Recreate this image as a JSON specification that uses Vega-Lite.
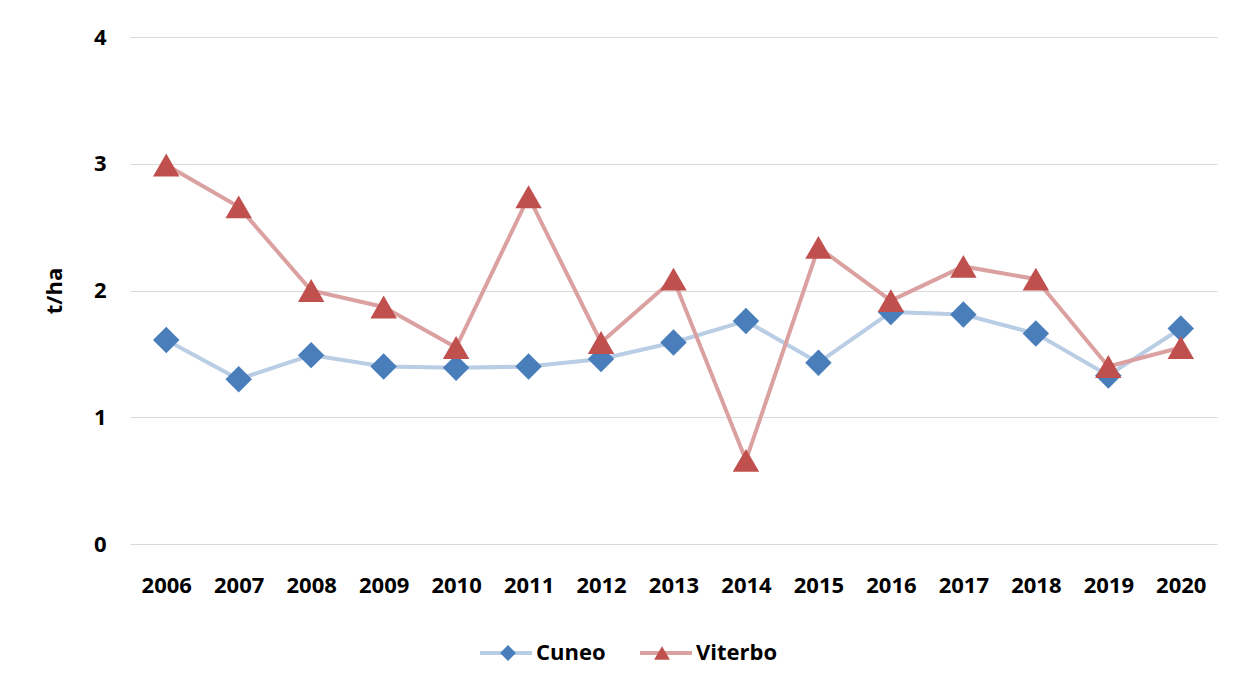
{
  "$schema": "https://vega.github.io/schema/vega-lite/v6.json",
  "width": 1087,
  "height": 507,
  "autosize": {"type": "none"},
  "padding": {"left": 130, "top": 37, "right": 26, "bottom": 145},
  "background": "#ffffff",
  "config": {
    "font": "Open Sans",
    "view": {"stroke": null}
  },
  "data": {
    "values": [
      {"year": "2006", "series": "Cuneo", "value": 1.61},
      {"year": "2007", "series": "Cuneo", "value": 1.30},
      {"year": "2008", "series": "Cuneo", "value": 1.49},
      {"year": "2009", "series": "Cuneo", "value": 1.40},
      {"year": "2010", "series": "Cuneo", "value": 1.39},
      {"year": "2011", "series": "Cuneo", "value": 1.40},
      {"year": "2012", "series": "Cuneo", "value": 1.46},
      {"year": "2013", "series": "Cuneo", "value": 1.59},
      {"year": "2014", "series": "Cuneo", "value": 1.76},
      {"year": "2015", "series": "Cuneo", "value": 1.43},
      {"year": "2016", "series": "Cuneo", "value": 1.83},
      {"year": "2017", "series": "Cuneo", "value": 1.81},
      {"year": "2018", "series": "Cuneo", "value": 1.66},
      {"year": "2019", "series": "Cuneo", "value": 1.33},
      {"year": "2020", "series": "Cuneo", "value": 1.70},
      {"year": "2006", "series": "Viterbo", "value": 2.99},
      {"year": "2007", "series": "Viterbo", "value": 2.66},
      {"year": "2008", "series": "Viterbo", "value": 2.00},
      {"year": "2009", "series": "Viterbo", "value": 1.87},
      {"year": "2010", "series": "Viterbo", "value": 1.55},
      {"year": "2011", "series": "Viterbo", "value": 2.74},
      {"year": "2012", "series": "Viterbo", "value": 1.59},
      {"year": "2013", "series": "Viterbo", "value": 2.09},
      {"year": "2014", "series": "Viterbo", "value": 0.66},
      {"year": "2015", "series": "Viterbo", "value": 2.34},
      {"year": "2016", "series": "Viterbo", "value": 1.92},
      {"year": "2017", "series": "Viterbo", "value": 2.19},
      {"year": "2018", "series": "Viterbo", "value": 2.09},
      {"year": "2019", "series": "Viterbo", "value": 1.40},
      {"year": "2020", "series": "Viterbo", "value": 1.55}
    ]
  },
  "encoding": {
    "x": {
      "field": "year",
      "type": "ordinal",
      "scale": {"type": "point", "padding": 0.5},
      "axis": {
        "title": null,
        "labelAngle": 0,
        "domain": false,
        "ticks": false,
        "labelFont": "Open Sans",
        "labelFontWeight": "bold",
        "labelFontSize": 22,
        "labelColor": "#000000",
        "labelPadding": 31
      }
    },
    "y": {
      "field": "value",
      "type": "quantitative",
      "scale": {"domain": [0, 4], "nice": false},
      "axis": {
        "title": "t/ha",
        "values": [0, 1, 2, 3, 4],
        "domain": false,
        "ticks": false,
        "grid": true,
        "gridColor": "#d9d9d9",
        "gridWidth": 1.2,
        "labelFont": "Open Sans",
        "labelFontWeight": "bold",
        "labelFontSize": 22,
        "labelColor": "#000000",
        "labelPadding": 24,
        "titleFont": "Open Sans",
        "titleFontWeight": "bold",
        "titleFontSize": 22,
        "titleColor": "#000000",
        "titlePadding": 27
      }
    }
  },
  "layer": [
    {
      "mark": {"type": "line", "strokeWidth": 4},
      "encoding": {
        "stroke": {
          "field": "series",
          "type": "nominal",
          "scale": {"domain": ["Cuneo", "Viterbo"], "range": ["#b9cde5", "#dba0a0"]},
          "legend": {
            "orient": "none",
            "legendX": 348,
            "legendY": 588,
            "direction": "horizontal",
            "title": null,
            "padding": 0,
            "symbolType": "stroke",
            "symbolSize": 2704,
            "symbolStrokeWidth": 4,
            "labelFont": "Open Sans",
            "labelFontWeight": "bold",
            "labelFontSize": 22,
            "labelColor": "#000000",
            "labelOffset": 2,
            "columnPadding": 26
          }
        }
      }
    },
    {
      "mark": {"type": "point", "filled": true, "size": 700, "opacity": 1},
      "encoding": {
        "fill": {
          "field": "series",
          "type": "nominal",
          "scale": {"range": ["#4a7ebb", "#c0504d"]},
          "legend": {
            "orient": "none",
            "legendX": 367,
            "legendY": 605,
            "direction": "horizontal",
            "title": null,
            "padding": 0,
            "zindex": 1,
            "symbolSize": 250,
            "symbolStrokeWidth": 0,
            "labelExpr": "''",
            "labelFontSize": 22,
            "labelOffset": 0,
            "columnPadding": 132
          }
        },
        "shape": {
          "field": "series",
          "type": "nominal",
          "scale": {"range": ["diamond", "triangle-up"]},
          "legend": {
            "orient": "none",
            "legendX": 367,
            "legendY": 605,
            "direction": "horizontal",
            "title": null,
            "padding": 0,
            "zindex": 1,
            "symbolSize": 250,
            "symbolStrokeWidth": 0,
            "labelExpr": "''",
            "labelFontSize": 22,
            "labelOffset": 0,
            "columnPadding": 132
          }
        }
      }
    }
  ]
}
